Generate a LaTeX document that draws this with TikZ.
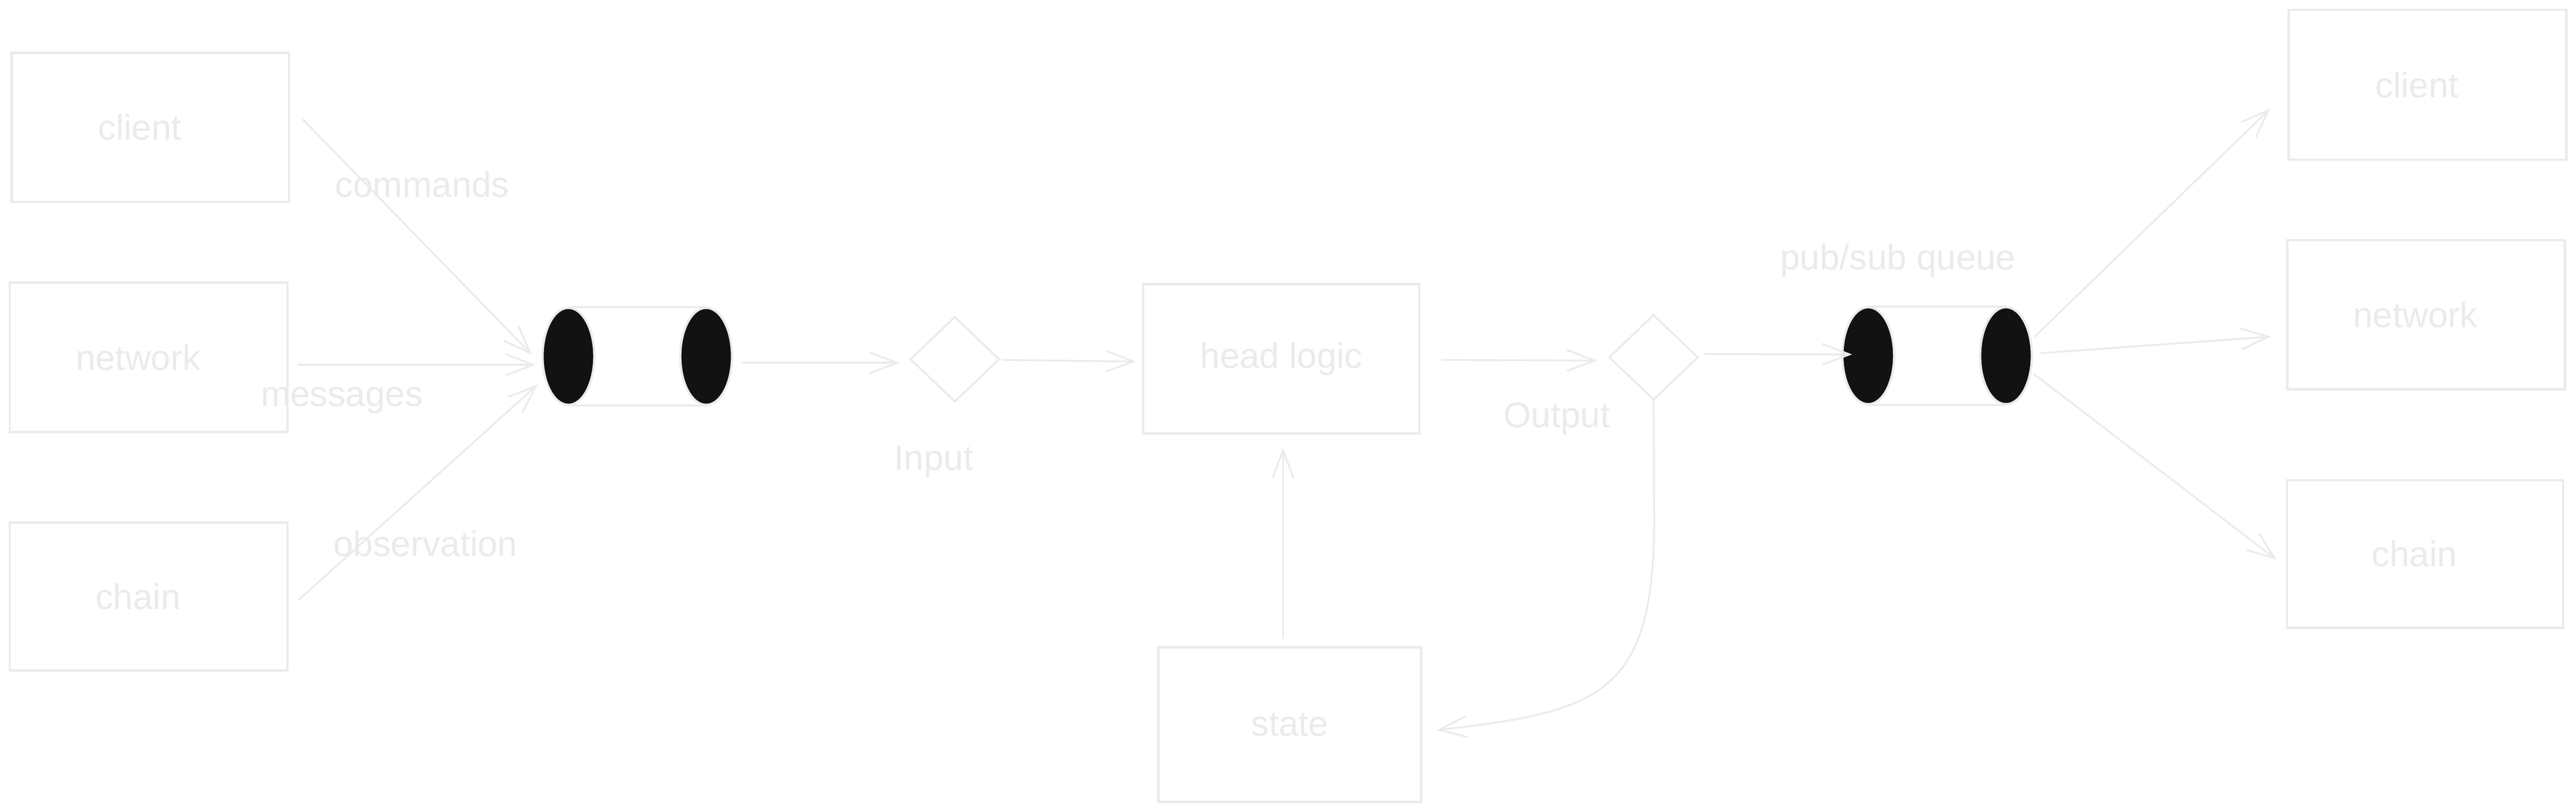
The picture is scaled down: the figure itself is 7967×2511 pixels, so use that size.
\documentclass[tikz,border=0pt]{standalone}
\usepackage{fontspec}
\setmainfont{Liberation Sans}
\usetikzlibrary{arrows.meta,calc,shapes.geometric}
\definecolor{lg}{HTML}{EBEBEB}
\definecolor{qfill}{HTML}{121212}
\tikzset{
  box/.style={draw=lg, line width=0.7pt, inner sep=0pt, text=lg, font=\fontsize{11}{13}\selectfont},
  dia/.style={diamond, draw=lg, line width=0.6pt, inner sep=0pt, minimum width=27.6pt, minimum height=26.4pt},
  lbl/.style={text=lg, font=\fontsize{11}{13}\selectfont, inner sep=0pt},
  arr/.style={draw=lg, line width=0.55pt, line cap=round, -{Straight Barb[length=8.5pt,width=6.5pt]}},
  qline/.style={draw=lg, line width=0.7pt},
  qend/.style={fill=qfill, draw=lg, line width=0.7pt},
  qbox/.style={inner sep=0pt, minimum width=58.2pt, minimum height=30pt}
}
\newcommand{\lft}[1]{#1\hspace*{6.6pt}}
\begin{document}
\begin{tikzpicture}[x=0.1pt,y=-0.1pt]
\useasboundingbox (0,0) rectangle (7967,2511);
\fill[white] (0,0) rectangle (7967,2511);

% left boxes
\node[box, minimum width=85.8pt, minimum height=46.2pt] (cl) at (465,394) {\lft{client}};
\node[box, minimum width=85.9pt, minimum height=46.2pt] (nl) at (460,1105) {\lft{network}};
\node[box, minimum width=85.9pt, minimum height=45.7pt] (chl) at (460,1845) {\lft{chain}};

% middle
\node[box, minimum width=85.4pt, minimum height=46.2pt] (hl) at (3963,1110) {head logic};
\node[box, minimum width=81.3pt, minimum height=47.8pt] (st) at (3989,2241) {state};

% right boxes
\node[box, minimum width=85.9pt, minimum height=46.3pt] (rcl) at (7508,262) {\lft{client}};
\node[box, minimum width=85.9pt, minimum height=46.2pt] (rnl) at (7503,973) {\lft{network}};
\node[box, minimum width=85.4pt, minimum height=45.7pt] (rch) at (7500,1713) {\lft{chain}};

% diamonds
\node[dia] (in) at (2953,1111) {};
\node[dia] (out) at (5114,1105) {};

% queues
\node[qbox] (q1) at (1971,1102) {};
\draw[qline] ($(q1.north west)+(80,0)$) -- ($(q1.north east)+(-80,0)$);
\draw[qline] ($(q1.south west)+(80,0)$) -- ($(q1.south east)+(-80,0)$);
\filldraw[qend] ($(q1.west)+(80,0)$) ellipse [x radius=8pt, y radius=15pt];
\filldraw[qend] ($(q1.east)+(-80,0)$) ellipse [x radius=8pt, y radius=15pt];

\node[qbox] (q2) at (5991,1100) {};
\draw[qline] ($(q2.north west)+(80,0)$) -- ($(q2.north east)+(-80,0)$);
\draw[qline] ($(q2.south west)+(80,0)$) -- ($(q2.south east)+(-80,0)$);
\filldraw[qend] ($(q2.west)+(80,0)$) ellipse [x radius=8pt, y radius=15pt];
\filldraw[qend] ($(q2.east)+(-80,0)$) ellipse [x radius=8pt, y radius=15pt];

% labels
\node[lbl] (lcmd) at (1306,570) {commands};
\node[lbl] (lmsg) at (1057,1238) {messages};
\node[lbl] (lobs) at (1316,1680) {observation};
\node[lbl] (lin) at (2888,1428) {Input};
\node[lbl] (lout) at (4815,1295) {Output};
\node[lbl] (lpub) at (5870,805) {pub/sub queue};

% connectors
\draw[arr] ($(cl.east)+(40,-24)$) -- ($(q1.west)+(-33,-5)$);
\draw[arr] ($(nl.east)+(30,23)$) -- ($(q1.west)+(-21,26)$);
\draw[arr] ($(chl.east)+(31,10)$) -- ($(q1.west)+(-15,87)$);
\draw[arr] ($(q1.east)+(34,20)$) -- ($(in.west)+(-30,11)$);
\draw[arr] ($(in.east)+(6,2)$) -- ($(hl.west)+(-20,8)$);
\draw[arr] ($(st.north)+(-21,-25)$) -- ($(hl.south)+(5,41)$);
\draw[arr] ($(hl.east)+(66,3)$) -- ($(out.west)+(-34,10)$);
\draw[arr] ($(out.east)+(18,-10)$) -- ($(q2.west)+(30,-4)$);
\draw[arr] (out.south) -- ($(out.south)+(2,363)$) .. controls (5116,2150) and (4950,2200) .. ($(st.east)+(45,17)$);
\draw[arr] ($(q2.east)+(9,-59)$) -- ($(rcl.west)+(-54,74)$);
\draw[arr] ($(q2.east)+(29,-8)$) -- ($(rnl.west)+(-47,68)$);
\draw[arr] ($(q2.east)+(7,57)$) -- ($(rch.west)+(-29,18)$);
\end{tikzpicture}
\end{document}
